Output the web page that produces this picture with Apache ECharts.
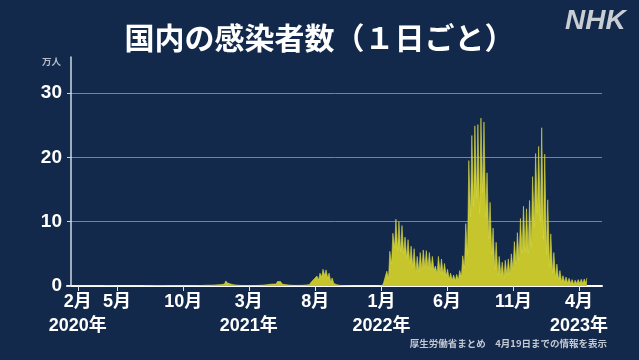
<!DOCTYPE html>
<html>
<head>
<meta charset="utf-8">
<script src="https://cdn.jsdelivr.net/npm/echarts@6/dist/echarts.min.js"></script>
<style>
html,body{margin:0;padding:0;background:#13294b;}
#chart{width:639px;height:360px;}
</style>
</head>
<body>
<div id="chart"></div>
<script>
// Daily new cases in Japan (unit: 万人). Each week (starting Monday) is described
// by its Monday value (weekly low) and its mid-week value (weekly high).
const firstMonday = '2020-01-13';
const lastDay = '2023-04-19';

const high2020 = [0,0.0002,0.0005,0.0003,0.001,0.002,0.002,0.003,0.005,0.004,0.01,0.03,0.05,0.06,0.045,0.03,0.01,0.008,0.004,0.004,0.005,0.005,0.006,0.01,0.025,0.04,0.06,0.1,0.13,0.16,0.12,0.11,0.09,0.07,0.065,0.06,0.055,0.06,0.06,0.065,0.065,0.08,0.12,0.16,0.24,0.25,0.25,0.30,0.30,0.38,0.45];
const low2020 = [0,0,0.0002,0.0001,0.0002,0.001,0.001,0.002,0.002,0.002,0.004,0.008,0.02,0.03,0.03,0.015,0.008,0.005,0.002,0.002,0.003,0.002,0.003,0.004,0.01,0.02,0.03,0.05,0.06,0.08,0.07,0.06,0.05,0.04,0.03,0.03,0.03,0.03,0.03,0.03,0.03,0.04,0.05,0.08,0.1,0.12,0.13,0.14,0.17,0.19,0.22];
const high2021 = [0.79,0.65,0.58,0.40,0.26,0.18,0.15,0.12,0.13,0.13,0.16,0.20,0.28,0.35,0.46,0.54,0.60,0.70,0.70,0.55,0.45,0.30,0.22,0.17,0.17,0.20,0.25,0.35,0.55,1.06,1.55,2.0,2.6,2.5,2.0,1.25,0.6,0.35,0.2,0.13,0.08,0.05,0.035,0.025,0.025,0.02,0.015,0.015,0.015,0.02,0.03,0.05];
const low2021 = [0.32,0.45,0.32,0.20,0.14,0.10,0.08,0.07,0.06,0.06,0.07,0.09,0.12,0.15,0.20,0.27,0.30,0.30,0.40,0.30,0.22,0.17,0.12,0.09,0.10,0.10,0.12,0.17,0.22,0.45,0.80,0.93,1.4,1.6,1.2,0.6,0.4,0.2,0.1,0.06,0.04,0.02,0.015,0.01,0.01,0.01,0.008,0.008,0.008,0.01,0.012,0.02];
const high2022 = [0.6,2.3,5.4,8.2,10.4,10.0,9.4,7.6,7.2,6.2,5.8,4.6,5.2,5.6,5.5,5.2,4.6,3.1,4.6,4.2,3.5,2.6,2.0,1.7,1.8,2.4,4.7,9.7,19.5,23.4,24.9,25.1,26.1,25.5,17.6,13.0,9.0,6.8,4.6,3.7,4.0,4.2,5.0,6.9,8.3,10.5,12.4,12.0,13.3,17.0,20.6,21.7];
const low2022 = [0.06,0.6,1.2,3.4,5.9,5.6,5.3,5.0,4.3,3.5,3.0,2.0,2.2,2.5,2.8,2.7,2.6,2.4,1.9,2.0,1.8,1.5,1.0,0.9,0.8,0.9,1.4,2.8,4.8,10.8,12.4,13.7,11.3,14.5,10.7,7.3,5.0,2.6,1.6,1.6,1.3,1.7,1.8,2.6,3.4,4.0,5.1,5.3,5.1,6.1,9.2,11.3];
const high2023 = [24.6,20.5,13.4,8.1,5.2,3.4,2.4,1.6,1.4,1.2,1.0,0.9,1.0,1.05,1.1,1.25];
const low2023 = [10.0,7.3,5.0,3.0,2.0,1.2,0.9,0.6,0.5,0.4,0.35,0.25,0.35,0.38,0.4,0.45];

// x-axis ticks (months) and year labels
const tickDates = ['2020-02-01','2020-05-01','2020-10-01','2021-03-01','2021-08-01','2022-01-01','2022-06-01','2022-11-01','2023-04-01'];
const tickMonths = ['2月','5月','10月','3月','8月','1月','6月','11月','4月'];
const yearDates = ['2020-02-01','2021-03-01','2022-01-01','2023-04-01'];
const yearLabels = ['2020年','2021年','2022年','2023年'];
// y-axis ticks
const yTicks = [0,10,20,30];

const titleText = '国内の感染者数（１日ごと）';
const unitText = '万人';
const sourceText = '厚生労働省まとめ　4月19日までの情報を表示';

const DAY = 86400000;
function ts(s){ const p = s.split('-').map(Number); return Date.UTC(p[0], p[1]-1, p[2]); }

const highs = high2020.concat(high2021, high2022, high2023);
const lows = low2020.concat(low2021, low2022, low2023);
const start = ts(firstMonday), end = ts(lastDay);
const data = [];
for (let i = 0; i < highs.length; i++) {
  const mon = start + i * 7 * DAY;
  data.push([mon, lows[i]]);
  data.push([Math.min(mon + 3 * DAY, end), highs[i]]);
}
const tickTs = tickDates.map(ts);
const yearTs = yearDates.map(ts);
const xMin = ts('2020-01-07'), xMax = ts('2023-05-24');

const FONT = '"Liberation Sans", "Noto Sans CJK JP", sans-serif';
const labelBase = {color: '#ffffff', fontFamily: FONT, fontWeight: 'bold', fontSize: 18, showMinLabel: true, showMaxLabel: true, hideOverlap: false};
const chart = echarts.init(document.getElementById('chart'), null, {renderer:'canvas'});
chart.setOption({
  backgroundColor: '#13294b',
  animation: false,
  grid: {left: 67, right: 37, top: 57, bottom: 74},
  xAxis: [{
    type: 'value',
    min: xMin,
    max: xMax,
    axisLine: {show: true, onZero: true, lineStyle: {color: '#ffffff', width: 2}},
    axisTick: {show: true, length: 5, customValues: tickTs, lineStyle: {color: '#dfe5ee', width: 1}},
    splitLine: {show: false},
    axisLabel: Object.assign({}, labelBase, {
      customValues: tickTs,
      margin: 7,
      formatter: function (v) {
        const i = tickTs.indexOf(v);
        return i < 0 ? '' : tickMonths[i];
      }
    })
  }, {
    type: 'value',
    position: 'bottom',
    min: xMin,
    max: xMax,
    axisLine: {show: false, onZero: false},
    axisTick: {show: false},
    splitLine: {show: false},
    axisLabel: Object.assign({}, labelBase, {
      customValues: yearTs,
      margin: 31,
      formatter: function (v) {
        const i = yearTs.indexOf(v);
        return i < 0 ? '' : yearLabels[i];
      }
    })
  }],
  yAxis: {
    type: 'value',
    min: 0,
    max: 35.6,
    offset: -4,
    axisLine: {show: true, lineStyle: {color: '#cfd8e4', width: 1.5}},
    axisTick: {show: true, length: 4, customValues: yTicks, lineStyle: {color: '#cfd8e4'}},
    axisLabel: {customValues: yTicks, showMinLabel: true, margin: 9, color: '#ffffff', fontFamily: FONT, fontWeight: 'bold', fontSize: 19},
    splitLine: {show: true, lineStyle: {color: '#75849b', width: 1}}
  },
  series: [{
    type: 'line',
    xAxisIndex: 0,
    data: data,
    symbol: 'none',
    smooth: false,
    lineStyle: {color: '#d9d94a', width: 0.6},
    areaStyle: {color: '#c6c62c', opacity: 1}
  }],
  graphic: [
    {type: 'text', left: 'center', top: 23, style: {text: titleText, fill: '#ffffff', font: 'bold 30px "Noto Sans CJK JP", sans-serif'}},
    {type: 'text', left: 565, top: 7, style: {text: 'NHK', fill: '#c9cdd4', font: 'italic bold 28px "Liberation Sans", sans-serif'}},
    {type: 'text', left: 42, top: 57, style: {text: unitText, fill: '#b7bfcb', font: 'bold 9.5px "Noto Sans CJK JP", sans-serif'}},
    {type: 'text', right: 32, top: 339, style: {text: sourceText, fill: '#c3c9d3', font: 'bold 9.5px "Noto Sans CJK JP", sans-serif'}}
  ]
});
</script>
</body>
</html>
